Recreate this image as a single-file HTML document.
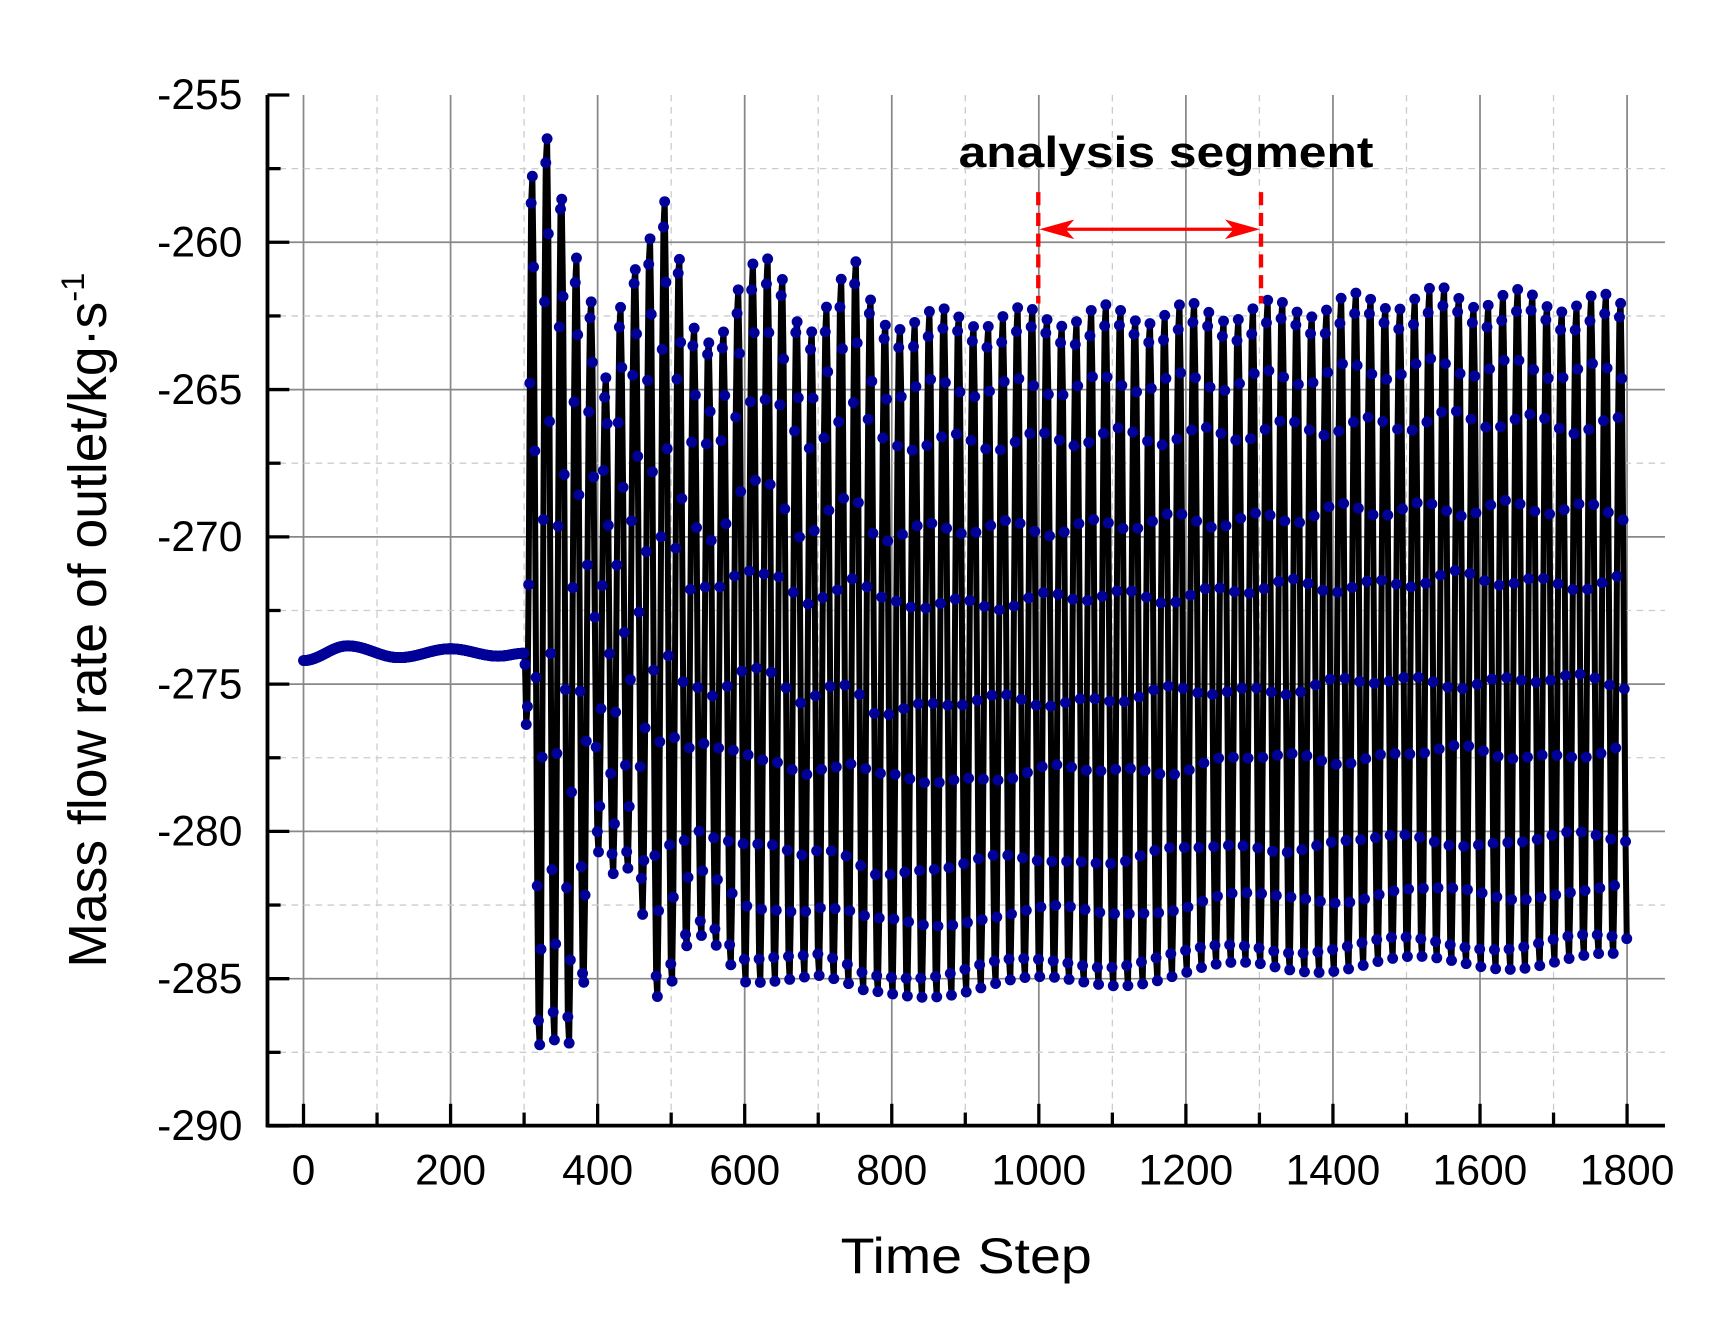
<!DOCTYPE html>
<html><head><meta charset="utf-8"><style>
html,body{margin:0;padding:0;background:#fff}
svg{display:block}
text{font-family:"Liberation Sans",sans-serif}
</style></head><body>
<svg id="s" width="1713" height="1326" viewBox="0 0 1569 1214.5" xmlns="http://www.w3.org/2000/svg">
<g id="grid"></g>
<g id="data"></g>
<g id="axes"></g>
<text x="878" y="153" font-size="40" font-weight="bold" fill="#000" textLength="380" lengthAdjust="spacingAndGlyphs">analysis segment</text>
<line x1="951" y1="176" x2="951" y2="278" stroke="#f00" stroke-width="4" stroke-dasharray="12,7"/>
<line x1="1155" y1="176" x2="1155" y2="278" stroke="#f00" stroke-width="4" stroke-dasharray="12,7"/>
<line x1="960" y1="210" x2="1146" y2="210" stroke="#f00" stroke-width="3"/>
<polygon points="952,210 984,201 976,210 984,219" fill="#f00"/>
<polygon points="1154,210 1122,201 1130,210 1122,219" fill="#f00"/>
<text x="885" y="1166" font-size="46" text-anchor="middle" textLength="230" lengthAdjust="spacingAndGlyphs">Time Step</text>
<text transform="translate(97,568) rotate(-90)" font-size="49" text-anchor="middle">Mass flow rate of outlet/kg·s<tspan dy="-20" font-size="30">-1</tspan></text>
</svg>
<script>
(function(){
const NS="http://www.w3.org/2000/svg";
const X=t=>278+(t/200)*134.7, Y=v=>87+(-255-v)/5*134.9;
function el(p,n,a){const e=document.createElementNS(NS,n);for(const k in a)e.setAttribute(k,a[k]);p.appendChild(e);return e;}
const G=document.getElementById('grid'),A=document.getElementById('axes'),D=document.getElementById('data');
const L=245,R=1525,T=87,B=1031;
for(let t=0;t<=1800;t+=100){const x=X(t);
 if(t%200==0)el(G,'line',{x1:x,x2:x,y1:T,y2:B,stroke:'#888','stroke-width':1.6});
 else el(G,'line',{x1:x,x2:x,y1:T,y2:B,stroke:'#ccc','stroke-width':1.2,'stroke-dasharray':'6,5'});
 el(A,'line',{x1:x,x2:x,y1:B,y2:B-(t%200==0?20:12),stroke:'#000','stroke-width':3});
 if(t%200==0){const tx=el(A,'text',{x:x,y:1085,'font-size':39,'text-anchor':'middle'});tx.textContent=t;}
}
for(let k=0;k<=14;k++){const v=-255-k*2.5,y=Y(v);
 if(k>0){if(k%2==0)el(G,'line',{x1:L,x2:R,y1:y,y2:y,stroke:'#888','stroke-width':1.6});
 else el(G,'line',{x1:L,x2:R,y1:y,y2:y,stroke:'#ccc','stroke-width':1.2,'stroke-dasharray':'6,5'});}
 el(A,'line',{x1:L,x2:L+(k%2==0?20:12),y1:y,y2:y,stroke:'#000','stroke-width':3});
 if(k%2==0){const tx=el(A,'text',{x:222,y:y+13,'font-size':39,'text-anchor':'end'});tx.textContent=v;}
}
el(A,'line',{x1:L,x2:L,y1:T,y2:B+1.5,stroke:'#000','stroke-width':3.5});
el(A,'line',{x1:L-1.5,x2:R,y1:B,y2:B,stroke:'#000','stroke-width':3.5});
function interp(pts,t){if(t<=pts[0][0])return pts[0][1];for(let i=1;i<pts.length;i++){if(t<=pts[i][0]){const a=pts[i-1],b=pts[i];return a[1]+(b[1]-a[1])*(t-a[0])/(b[0]-a[0]);}}return pts[pts.length-1][1];}
function cinterp(pts,t){if(t<=pts[0][0])return pts[0][1];for(let i=1;i<pts.length;i++){if(t<=pts[i][0]){const a=pts[i-1],b=pts[i];const u=(1-Math.cos(Math.PI*(t-a[0])/(b[0]-a[0])))/2;return a[1]+(b[1]-a[1])*u;}}return pts[pts.length-1][1];}
const topE=[[310,-258],[340,-255.6],[360,-260],[380,-260.2],[410,-265],[440,-261.2],[465,-260],[485,-258],[505,-259],[520,-263],[560,-263.5],[600,-260.5],[640,-260.8],[680,-263],[720,-261.5],[750,-260.8],[780,-262.5],[1000,-262.4],[1300,-262.2],[1550,-261.7],[1800,-262]];
const botE=[[310,-287.3],[340,-287],[375,-287.2],[395,-280.5],[430,-282],[455,-281],[470,-286.3],[500,-285.5],[530,-283.5],[560,-283.8],[600,-285],[700,-285.2],[760,-285.7],[860,-285.5],[1000,-285.3],[1200,-285],[1300,-284.7],[1800,-284.5]];
const pre=[[0,-274.2],[60,-273.7],[130,-274.1],[200,-273.8],[265,-274.05],[300,-273.95]];
let pts=[];
for(let t=0;t<=300;t+=1){pts.push([t,cinterp(pre,t)]);}
const P=20,S=20/12;
for(let t=301.2;t<=1800;t+=S){
 const ph=(t-301.2)/P*2*Math.PI;
 let hi=interp(topE,t),lo=interp(botE,t);
 hi+=0.35*Math.sin(t*0.37);lo+=0.25*Math.sin(t*0.29);
 const m=(hi+lo)/2,a=(hi-lo)/2;
 let ramp=Math.min(1,(t-301)/8);
 pts.push([t,-274*(1-ramp)+ramp*(m-a*Math.sin(ph+Math.PI/2+0.15))]);
}
let d='';pts.forEach((p,i)=>{d+=(i?'L':'M')+X(p[0]).toFixed(1)+','+Y(p[1]).toFixed(1);});
el(D,'path',{d:d,fill:'none',stroke:'#000','stroke-width':5.5,'stroke-linejoin':'round'});
pts.forEach(p=>el(D,'circle',{cx:X(p[0]).toFixed(1),cy:Y(p[1]).toFixed(1),r:5,fill:'#000099'}));
})();
</script>
</body></html>
